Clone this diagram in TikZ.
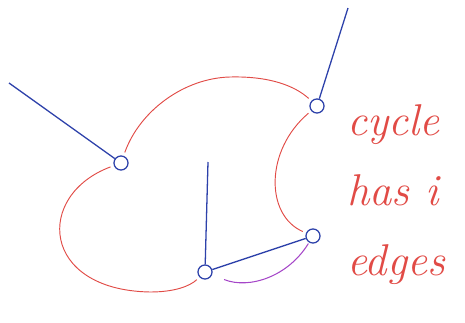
\documentclass[tikz,border=0pt]{standalone}
\usetikzlibrary{calc}
\definecolor{colEdge} {RGB}{45,65,170}
\definecolor{colCycle}{RGB}{225,75,70}
\definecolor{colPath} {RGB}{165,70,200}
\tikzset{
  vert/.style  = {draw=colEdge, circle, line width=1.1pt, fill=white,
                  inner sep=0pt, minimum size=12pt},
  tree/.style  = {draw=colEdge, line width=1.1pt},
  cyc/.style   = {draw=colCycle, line width=0.8pt, shorten <=3pt, shorten >=3pt},
  alt/.style   = {draw=colPath, line width=0.9pt},
  note/.style  = {text=colCycle, font=\fontsize{38}{60}\selectfont\itshape,
                  align=left, anchor=north west},
}

\begin{document}
\begin{tikzpicture}[x=0.03cm, y=-0.03cm]
\useasboundingbox (0,0) rectangle (465,322);

%% ── vertices ────────────────────────────────────────────────────────────────
\node[vert] (va) at (121,163) {};
\node[vert] (vb) at (317,106) {};
\node[vert] (vc) at (313,236) {};
\node[vert] (vd) at (205,272) {};

%% ── free ends of the outer edges ────────────────────────────────────────────
\coordinate (ea) at (9,83);
\coordinate (eb) at (348,8);
\coordinate (ed) at (208,162);

%% ── cycle (red) ─────────────────────────────────────────────────────────────
\draw[cyc] (va) .. controls (140,110) and (185,78) .. (230,77)
                .. controls (270,76) and (295,86) .. (vb);
\draw[cyc] (vb) .. controls (265,150) and (265,215) .. (vc);
\draw[cyc] (va) .. controls (35,195) and (40,290) .. (150,292)
                .. controls (175,292) and (190,286) .. (vd);

%% ── blue edges ──────────────────────────────────────────────────────────────
\draw[tree] (va) -- (ea);
\draw[tree] (vb) -- (eb);
\draw[tree] (vd) -- (ed);
\draw[tree] (vd) -- (vc);

%% ── purple path under the chord ─────────────────────────────────────────────
\draw[alt, shorten <=11pt, shorten >=1pt] (vd) to[bend right=40] (vc);

%% ── label ───────────────────────────────────────────────────────────────────
\node[note] (lbl) at (343,100) {cycle\\has i\\edges};

\end{tikzpicture}
\end{document}
